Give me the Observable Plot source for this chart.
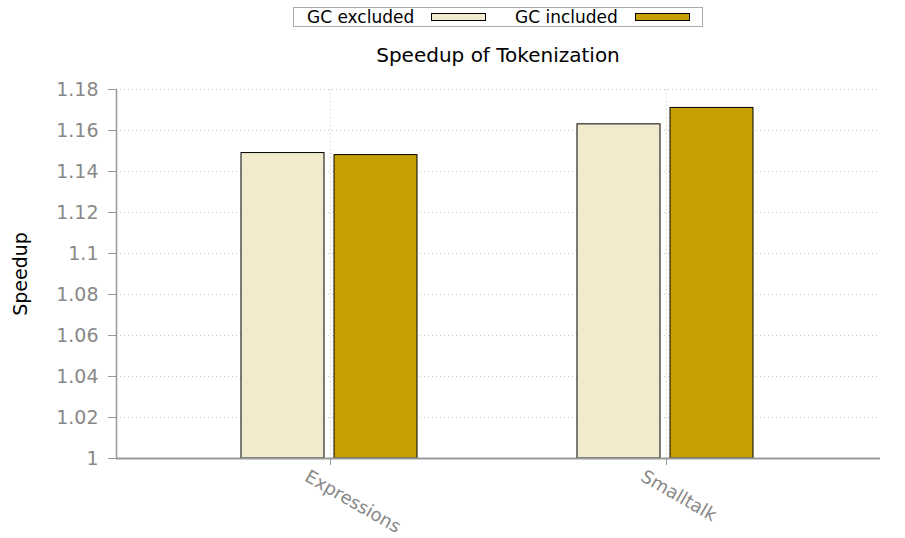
<!DOCTYPE html>
<html><head><meta charset="utf-8">
<script src="https://cdn.jsdelivr.net/npm/d3@7"></script>
<script src="https://cdn.jsdelivr.net/npm/@observablehq/plot@0.6"></script>
<style>
html,body{margin:0;background:#fff;font-family:"DejaVu Sans",sans-serif;overflow:hidden;}
#head{position:relative;width:905px;height:75px;}
#legend{position:absolute;left:293px;top:7px;width:410px;height:20px;border:1px solid #aaa;box-sizing:border-box;}
.lt{position:absolute;top:-1px;font-size:17px;line-height:20px;color:#000;white-space:nowrap;}
.sw{position:absolute;top:5px;width:55px;height:8px;border:1.5px solid #000;box-sizing:border-box;}
#title{position:absolute;left:116px;width:764px;top:43px;text-align:center;font-size:20px;color:#000;}
#chart svg{display:block;}
</style></head>
<body>
<div id="head">
  <div id="legend"></div>
  <div id="title">Speedup of Tokenization</div>
</div>
<div id="chart"></div>
<script>
const categories = ["Expressions", "Smalltalk"];
const seriesNames = ["GC excluded", "GC included"];
const gcExcluded = [1.149, 1.163];
const gcIncluded = [1.148, 1.171];
const seriesColors = ["#f1eacc", "#c6a000"];
const yTicks = [1, 1.02, 1.04, 1.06, 1.08, 1.1, 1.12, 1.14, 1.16, 1.18];

const data = categories.flatMap((c, i) => [
  {category: c, series: seriesNames[0], value: gcExcluded[i]},
  {category: c, series: seriesNames[1], value: gcIncluded[i]}
]);

// legend
const legend = document.getElementById("legend");
const legendPos = [{t: 13, s: 137}, {t: 221, s: 341}];
seriesNames.forEach((name, i) => {
  const t = document.createElement("div");
  t.className = "lt"; t.style.left = legendPos[i].t + "px"; t.textContent = name;
  const s = document.createElement("div");
  s.className = "sw"; s.style.left = legendPos[i].s + "px"; s.style.background = seriesColors[i];
  legend.appendChild(t); legend.appendChild(s);
});

const grid = {stroke: "#c8c8c8", strokeOpacity: 1, strokeDasharray: "1,3"};
const chart = Plot.plot({
  width: 905, height: 463,
  marginTop: 14, marginBottom: 80, marginLeft: 116, marginRight: 25,
  style: {fontFamily: "DejaVu Sans", background: "#fff"},
  x: {domain: categories, paddingInner: 0, paddingOuter: 0.134, label: null},
  y: {domain: [1, 1.18], label: null},
  color: {domain: seriesNames, range: seriesColors},
  marks: [
    Plot.gridY(yTicks, grid),
    Plot.gridX(categories, grid),
    Plot.barY(data.filter(d => d.series === seriesNames[0]), {x: "category", y1: 1, y2: "value", fill: "series", stroke: "#000", strokeWidth: 1, insetLeft: 79, insetRight: 174}),
    Plot.barY(data.filter(d => d.series === seriesNames[1]), {x: "category", y1: 1, y2: "value", fill: "series", stroke: "#000", strokeWidth: 1, insetLeft: 172, insetRight: 81}),
    Plot.ruleY([1], {stroke: "#999", strokeWidth: 2}),
    Plot.frame({anchor: "left", stroke: "#999", strokeWidth: 1.5}),
    Plot.axisY(yTicks, {tickSize: 8, tickPadding: 10, fontSize: 19, fill: "#888", stroke: "#999", label: null, tickFormat: d => String(+d.toFixed(2))}),
    Plot.axisX({tickSize: 7, stroke: "#999", tickFormat: () => "", label: null}),
    Plot.axisX({tickSize: 0, tickRotate: 30, fontSize: 18, fill: "#888", dx: -24, dy: 4, label: null}),
    Plot.text(["Speedup"], {frameAnchor: "left", textAnchor: "middle", lineAnchor: "middle", rotate: -90, dx: -96, fontSize: 19, fill: "#000"})
  ]
});
document.getElementById("chart").appendChild(chart);
</script>
</body></html>
